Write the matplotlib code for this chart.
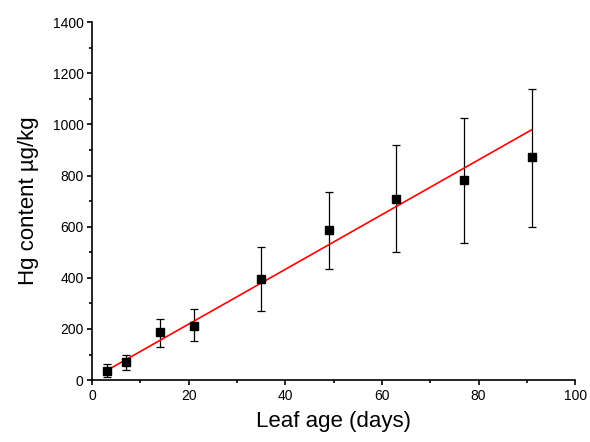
import matplotlib
matplotlib.use("Agg")
import matplotlib.pyplot as plt
from matplotlib.ticker import MultipleLocator

plt.rcParams['font.family'] = ['Liberation Sans', 'DejaVu Sans']

leaf_age = [3, 7, 14, 21, 35, 49, 63, 77, 91]
hg_mean = [37, 70, 187, 212, 395, 586, 708, 782, 872]
err_low = [12, 39, 130, 153, 270, 433, 500, 538, 600]
err_high = [62, 100, 238, 277, 520, 737, 920, 1025, 1139]
fit_x = [3, 91]
fit_y = [37, 979]

yerr = [[m - l for m, l in zip(hg_mean, err_low)],
        [h - m for m, h in zip(hg_mean, err_high)]]

fig = plt.figure(figsize=(5.9, 4.42), dpi=100)
ax = fig.add_axes([0.156, 0.140, 0.819, 0.810])

ax.errorbar(leaf_age, hg_mean, yerr=yerr, fmt='none', ecolor='black',
            elinewidth=0.9, capsize=3, capthick=0.9, zorder=2)
ax.plot(fit_x, fit_y, color='#ff0000', lw=1.2, zorder=3)
ax.plot(leaf_age, hg_mean, 's', color='black', markersize=6, zorder=4)

ax.set_xlim(0, 100)
ax.set_ylim(0, 1400)
ax.xaxis.set_major_locator(MultipleLocator(20))
ax.xaxis.set_minor_locator(MultipleLocator(10))
ax.yaxis.set_major_locator(MultipleLocator(200))
ax.yaxis.set_minor_locator(MultipleLocator(100))

for s in ['top', 'right']:
    ax.spines[s].set_visible(False)
for s in ['left', 'bottom']:
    ax.spines[s].set_linewidth(1.2)

ax.tick_params(which='major', direction='out', length=3.6, width=1.2, labelsize=10, pad=2.5)
ax.tick_params(which='minor', direction='out', length=2.2, width=1.2)

ax.set_xlabel('Leaf age (days)', fontsize=16, labelpad=6)
ax.set_ylabel('Hg content µg/kg', fontsize=16, labelpad=10)

fig.savefig('out.png', dpi=100)
